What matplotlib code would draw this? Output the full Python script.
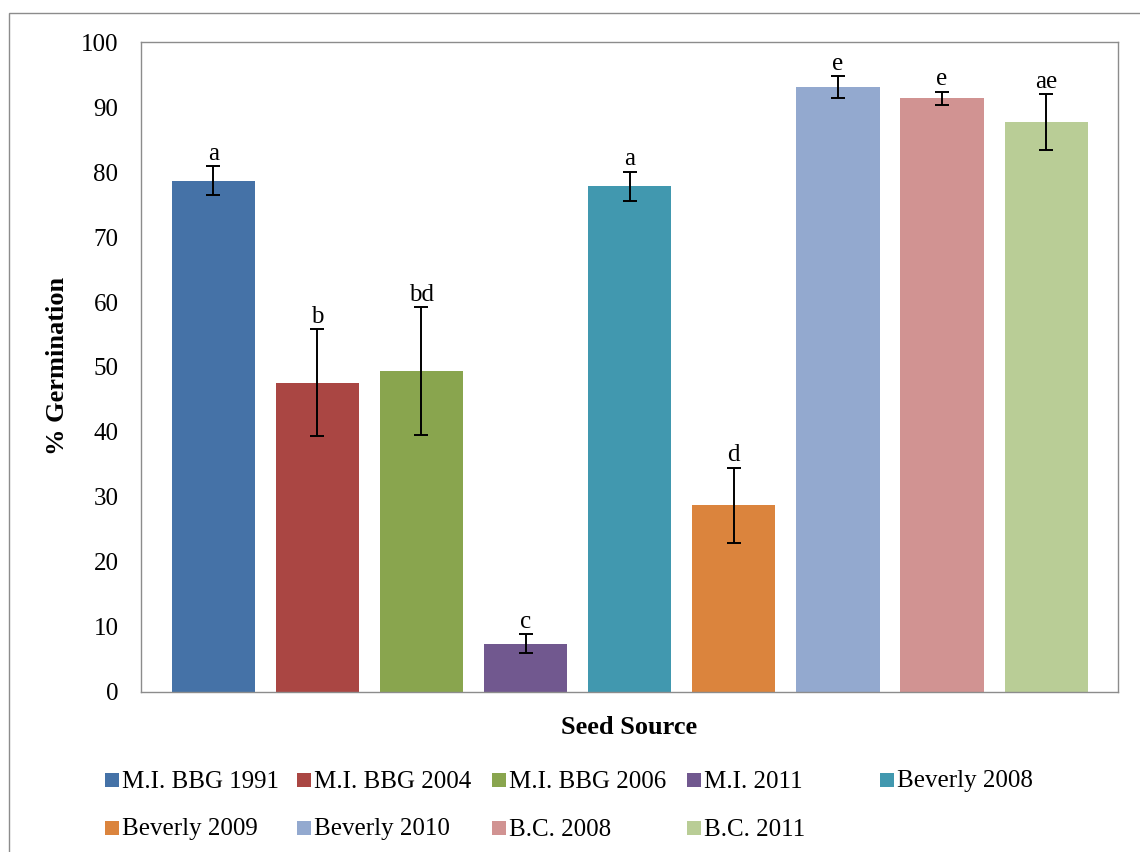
import matplotlib
matplotlib.use("Agg")
import matplotlib.pyplot as plt
from matplotlib.patches import Rectangle
import numpy as np

# ---- data ----
sources = ["M.I. BBG 1991", "M.I. BBG 2004", "M.I. BBG 2006", "M.I. 2011",
           "Beverly 2008", "Beverly 2009", "Beverly 2010", "B.C. 2008", "B.C. 2011"]
germination = [78.7, 47.6, 49.4, 7.4, 77.8, 28.7, 93.1, 91.4, 87.7]
errors = [2.2, 8.2, 9.8, 1.5, 2.3, 5.8, 1.7, 1.0, 4.3]
letters = ["a", "b", "bd", "c", "a", "d", "e", "e", "ae"]
colors = ["#4572A7", "#AA4643", "#89A54E", "#71588F", "#4198AF",
          "#DB843D", "#93A9CF", "#D19392", "#B9CD96"]
yticks = [0, 10, 20, 30, 40, 50, 60, 70, 80, 90, 100]

W, H = 1140, 852
plt.rcParams['font.family'] = ['Liberation Serif', 'DejaVu Serif']
fig = plt.figure(figsize=(W / 100, H / 100), dpi=100)

# outer chart border (extends past the right/bottom edges)
fig.patches.append(Rectangle((9 / W, -0.05), 1.2, 1 - 13 / H + 0.05,
                             transform=fig.transFigure, fill=False,
                             edgecolor="#8c8c8c", linewidth=1.0))

ax = fig.add_axes([140.7 / W, 1 - 691.7 / H, (1118.3 - 140.7) / W, (691.7 - 42.3) / H])
x = np.arange(len(sources))
ax.bar(x, germination, width=0.80, color=colors, zorder=2)
ax.errorbar(x, germination, yerr=errors, fmt="none", ecolor="black",
            elinewidth=1.4, capsize=5, capthick=1.4, zorder=3)
for xi, v, e, lab in zip(x, germination, errors, letters):
    ax.annotate(lab, (xi, v + e), xytext=(0, 1), textcoords="offset points",
                ha="center", va="bottom", fontsize=18)

ax.set_xlim(-0.697, 8.693)
ax.set_ylim(0, 100)
ax.set_yticks(yticks)
ax.set_xticks([])
ax.tick_params(axis="y", length=0, pad=16, labelsize=18)
for s in ax.spines.values():
    s.set_color("#8c8c8c")
    s.set_linewidth(1.0)

fig.text(58 / W, 1 - 366 / H, "% Germination", rotation=90, ha="center", va="center",
         fontsize=19, fontweight="bold")
fig.text(629 / W, 1 - 727 / H, "Seed Source", ha="center", va="center",
         fontsize=19, fontweight="bold")

# legend laid out Excel style: uniform columns, filled row-wise
col_x = [105, 297, 492, 687, 880]
row_y = [780, 828]
sq = 14
for i, (name, c) in enumerate(zip(sources, colors)):
    r, cidx = divmod(i, 5)
    px, py = col_x[cidx], row_y[r]
    fig.patches.append(Rectangle((px / W, 1 - (py + sq / 2) / H), sq / W, sq / H,
                                 transform=fig.transFigure, facecolor=c, edgecolor="none"))
    fig.text((px + 17) / W, 1 - (py + 7.5) / H, name, ha="left", va="baseline", fontsize=18)

fig.savefig("out.png", dpi=100)
